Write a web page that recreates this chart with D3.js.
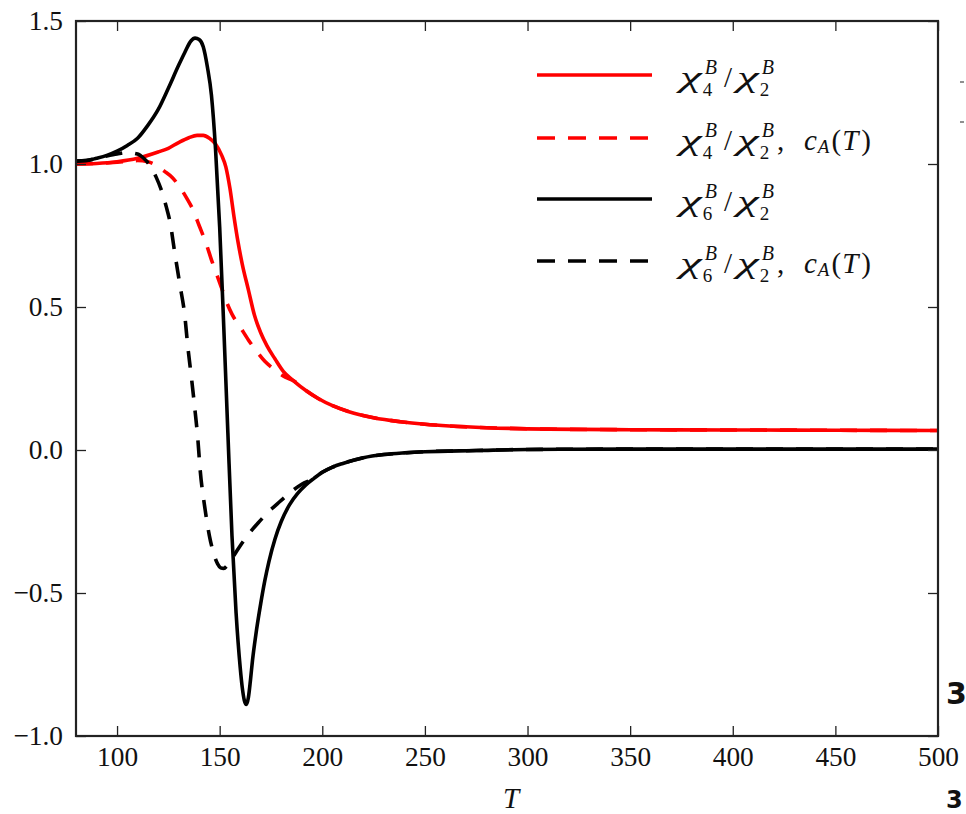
<!DOCTYPE html>
<html>
<head>
<meta charset="utf-8">
<script src="https://cdn.jsdelivr.net/npm/d3@7"></script>
<style>
  html, body { margin: 0; padding: 0; background: #fff; }
  svg { display: block; }
</style>
</head>
<body>
<svg id="chart" width="966" height="814"></svg>
<script>
// ---------------- data ----------------
const xTicks = [100, 150, 200, 250, 300, 350, 400, 450, 500];
const yTicks = [-1.0, -0.5, 0.0, 0.5, 1.0, 1.5];

// chi4^B / chi2^B  (red, solid)
const chi4T = [80,90,100,110,120,125,130,135,139,142,145,148,151,153,155,157,159,161,164,167,170,173,177,181,186,192,198,205,213,225,238,250,262,280,310,350,400,450,500];
const chi4V = [1.0,1.002,1.008,1.02,1.042,1.055,1.075,1.092,1.1,1.1,1.09,1.07,1.03,0.99,0.915,0.815,0.725,0.65,0.56,0.47,0.41,0.365,0.318,0.275,0.242,0.208,0.18,0.155,0.134,0.113,0.099,0.09,0.084,0.078,0.073,0.071,0.07,0.069,0.068];

// chi4^B / chi2^B, c_A(T)  (red, dashed)
const chi4cAT = [80,90,100,110,115,119,123,127,131,134,137,140,143.5,146,148.5,151,153,156,160,164,168,172,176,179,182,186,192,198,205,213,225,238,250,262,280,310,350,400,450,500];
const chi4cAV = [1.0,1.002,1.006,1.012,1.008,0.996,0.975,0.952,0.915,0.88,0.84,0.785,0.72,0.665,0.615,0.565,0.524,0.475,0.43,0.385,0.345,0.31,0.285,0.268,0.255,0.242,0.208,0.18,0.155,0.134,0.113,0.099,0.09,0.084,0.078,0.073,0.071,0.07,0.069,0.068];

// chi6^B / chi2^B  (black, solid)
const chi6T = [80,85,90,95,100,105,110,115,120,125,130,133,136,138,140,142,144,146,148,150,152,154,156,158,160,161,162,163,164,165,166,167,168,170,172,174,177,180,184,188,192,196,200,205,210,220,230,240,250,275,300,350,400,450,500];
const chi6V = [1.01,1.012,1.02,1.03,1.045,1.065,1.09,1.135,1.19,1.265,1.345,1.39,1.43,1.44,1.435,1.41,1.34,1.24,1.05,0.78,0.43,0.06,-0.30,-0.57,-0.76,-0.83,-0.875,-0.89,-0.865,-0.805,-0.735,-0.678,-0.627,-0.537,-0.457,-0.39,-0.31,-0.25,-0.192,-0.152,-0.122,-0.099,-0.078,-0.06,-0.047,-0.027,-0.016,-0.01,-0.006,-0.002,0.002,0.003,0.003,0.003,0.003];

// chi6^B / chi2^B, c_A(T)  (black, dashed)
const chi6cAT = [80,85,90,95,100,105,110,113,116,119,122,124,126,128,130.5,133,134.5,136.2,137.8,139.4,140.5,142.7,145,147,149,150.5,152,153.5,155,159.7,164,168.6,174,179.2,185,190,196,200,205,210,220,230,240,250,275,300,350,400,450,500];
const chi6cAV = [1.01,1.012,1.02,1.028,1.035,1.04,1.035,1.02,0.995,0.955,0.9,0.85,0.79,0.695,0.583,0.47,0.36,0.256,0.151,0.035,-0.07,-0.198,-0.30,-0.36,-0.398,-0.412,-0.414,-0.405,-0.39,-0.338,-0.295,-0.256,-0.215,-0.181,-0.145,-0.12,-0.099,-0.078,-0.06,-0.047,-0.027,-0.016,-0.01,-0.006,-0.002,0.002,0.003,0.003,0.003,0.003];

const seriesNames = ["chi4", "chi4cA", "chi6", "chi6cA"];
const seriesColors = ["#ff0000", "#ff0000", "#000000", "#000000"];
const seriesDashed = [false, true, false, true];
const legendIndex = ["4", "4", "6", "6"];
const legendCA = [false, true, false, true];

// ---------------- font detection ----------------
function fontAvailable(name) {
  const ctx = document.createElement("canvas").getContext("2d");
  const test = "mmmmmwwwwlli 0123456789 \u03C7T";
  let diff = false;
  ["monospace", "sans-serif"].forEach(fb => {
    ctx.font = `40px ${fb}`;
    const w0 = ctx.measureText(test).width;
    ctx.font = `40px "${name}", ${fb}`;
    const w1 = ctx.measureText(test).width;
    if (Math.abs(w1 - w0) > 0.5) diff = true;
  });
  return diff;
}
const serifCandidates = ["Liberation Serif", "DejaVu Serif", "Noto Serif", "Tinos", "Times New Roman", "FreeSerif", "Nimbus Roman"];
const serifName = serifCandidates.find(fontAvailable);
const SERIF = serifName ? `"${serifName}", serif` : "serif";

function measure(str, size, italic) {
  const ctx = document.createElement("canvas").getContext("2d");
  ctx.font = `${italic ? "italic " : ""}${size}px ${SERIF}`;
  return ctx.measureText(str).width;
}
// size tick labels so "100" is about as wide as in the reference (~41px)
let tickFont = 41 / measure("100", 1, false);
tickFont = Math.max(20, Math.min(28, tickFont));

// ---------------- layout ----------------
const svg = d3.select("#chart");
const plot = { left: 76, right: 938, top: 21, bottom: 736 };

const x = d3.scaleLinear().domain([80, 500]).range([plot.left, plot.right]);
const y = d3.scaleLinear().domain([-1.0, 1.5]).range([plot.bottom, plot.top]);

const series = [
  { T: chi4T, V: chi4V },
  { T: chi4cAT, V: chi4cAV },
  { T: chi6T, V: chi6V },
  { T: chi6cAT, V: chi6cAV }
].map((s, i) => ({
  name: seriesNames[i], color: seriesColors[i], dashed: seriesDashed[i],
  pts: s.T.map((t, j) => [t, s.V[j]])
}));

svg.append("defs").append("clipPath").attr("id", "clip")
  .append("rect")
  .attr("x", plot.left).attr("y", plot.top)
  .attr("width", plot.right - plot.left).attr("height", plot.bottom - plot.top);

const line = d3.line()
  .x(d => x(d[0])).y(d => y(d[1]))
  .curve(d3.curveMonotoneX);

const curves = svg.append("g").attr("clip-path", "url(#clip)");
series.forEach(s => {
  curves.append("path")
    .attr("d", line(s.pts))
    .attr("fill", "none")
    .attr("stroke", s.color)
    .attr("stroke-width", 3.6)
    .attr("stroke-linejoin", "round")
    .attr("stroke-dasharray", s.dashed ? "17,13" : null);
});

// ---------------- axes ----------------
const fmt = d => d3.format(".1f")(d).replace("-", "\u2212");
const digitH = tickFont * 0.71;

const gx = svg.append("g").attr("transform", `translate(0,${plot.bottom})`)
  .call(d3.axisBottom(x).tickValues(xTicks).tickSize(-10).tickPadding(Math.max(4, 30 - digitH)).tickFormat(d3.format("d")));
const gxTop = svg.append("g").attr("transform", `translate(0,${plot.top})`)
  .call(d3.axisTop(x).tickValues(xTicks).tickSize(-10).tickFormat(""));
const gy = svg.append("g").attr("transform", `translate(${plot.left},0)`)
  .call(d3.axisLeft(y).tickValues(yTicks).tickSize(-10).tickPadding(13).tickFormat(fmt));
const gyRight = svg.append("g").attr("transform", `translate(${plot.right},0)`)
  .call(d3.axisRight(y).tickValues(yTicks).tickSize(-10).tickFormat(""));

[gx, gxTop, gy, gyRight].forEach(g => {
  g.attr("font-family", SERIF);
  g.select(".domain").remove();
  g.selectAll(".tick line").attr("stroke", "#222").attr("stroke-width", 1.3);
  g.selectAll(".tick text")
    .attr("fill", "#111")
    .style("font-size", tickFont + "px")
    .style("font-family", SERIF);
});

// frame
svg.append("rect")
  .attr("x", plot.left).attr("y", plot.top)
  .attr("width", plot.right - plot.left).attr("height", plot.bottom - plot.top)
  .attr("fill", "none").attr("stroke", "#222").attr("stroke-width", 2.2);

// x label
svg.append("text")
  .attr("x", (plot.left + plot.right) / 2 + 4).attr("y", 808)
  .attr("text-anchor", "middle")
  .style("font-family", SERIF)
  .style("font-size", "29px").style("font-style", "italic")
  .attr("fill", "#111")
  .text("T");

// ---------------- legend ----------------
const legendRows = [75, 138, 199, 261];
const legX0 = 537, legX1 = 652, textX = 680;
const mainSize = 29, supSize = 20, subSize = 19;

function put(g, str, px, py, size, italic) {
  return g.append("text").attr("x", px).attr("y", py)
    .style("font-family", SERIF)
    .style("font-size", size + "px")
    .style("font-style", italic ? "italic" : "normal")
    .attr("fill", "#111")
    .text(str);
}

const chiW0 = measure("\u03C7", mainSize, true);
const chiScale = Math.max(1, Math.min(1.7, 22 / chiW0));
const chiW = chiW0 * chiScale;

legendRows.forEach((L, i) => {
  const g = svg.append("g");
  g.append("line")
    .attr("x1", legX0).attr("x2", legX1).attr("y1", L).attr("y2", L)
    .attr("stroke", seriesColors[i]).attr("stroke-width", 3.6)
    .attr("stroke-dasharray", seriesDashed[i] ? "18,13" : null);

  const b = L + 12, bSup = L - 1, bSub = L + 21;
  let cx = textX;
  // keep the main pieces at least where the reference typesetting puts them
  const at = (ref) => { cx = Math.max(cx, textX + ref); return cx; };
  const chi = (px) => put(g, "\u03C7", 0, 0, mainSize, true)
      .attr("transform", `translate(${px},${b}) scale(${chiScale},1)`);
  const stack = (subStr) => {
    put(g, subStr, cx, bSub, subSize, false);
    put(g, "B", cx + 2, bSup, supSize, true);
    cx += Math.max(measure(subStr, subSize, false), measure("B", supSize, true) + 2) + 2;
  };

  chi(at(0)); cx += chiW + 1;
  stack(legendIndex[i]);
  put(g, "/", at(44), b, mainSize, false); cx += measure("/", mainSize, false) + 2;
  chi(at(57)); cx += chiW + 1;
  stack("2");
  if (legendCA[i]) {
    put(g, ",", cx + 1, b, mainSize, false); cx += measure(",", mainSize, false) + 9;
    put(g, "c", at(124), b, mainSize, true); cx += measure("c", mainSize, true) + 1;
    put(g, "A", cx, b + 3, subSize, true); cx += measure("A", subSize, true) + 2;
    put(g, "(", cx, b, mainSize, false); cx += measure("(", mainSize, false) + 1;
    put(g, "T", cx, b, mainSize, true); cx += measure("T", mainSize, true) + 3;
    put(g, ")", cx, b, mainSize, false);
  }
});

// ---------------- stray marks at right edge (from neighbouring figure) ----------------
svg.append("line").attr("x1", 960).attr("x2", 964).attr("y1", 82).attr("y2", 82).attr("stroke", "#444").attr("stroke-width", 1.2);
svg.append("line").attr("x1", 960).attr("x2", 964).attr("y1", 122).attr("y2", 122).attr("stroke", "#444").attr("stroke-width", 1.2);
svg.append("text").attr("x", 946).attr("y", 704)
  .style("font-size", "30px").style("font-weight", "bold").style("font-family", '"DejaVu Sans", sans-serif')
  .attr("fill", "#111").text("3");
svg.append("text").attr("x", 946).attr("y", 808)
  .style("font-size", "24px").style("font-weight", "bold").style("font-family", '"DejaVu Sans", sans-serif')
  .attr("fill", "#111").text("3");
</script>
</body>
</html>
